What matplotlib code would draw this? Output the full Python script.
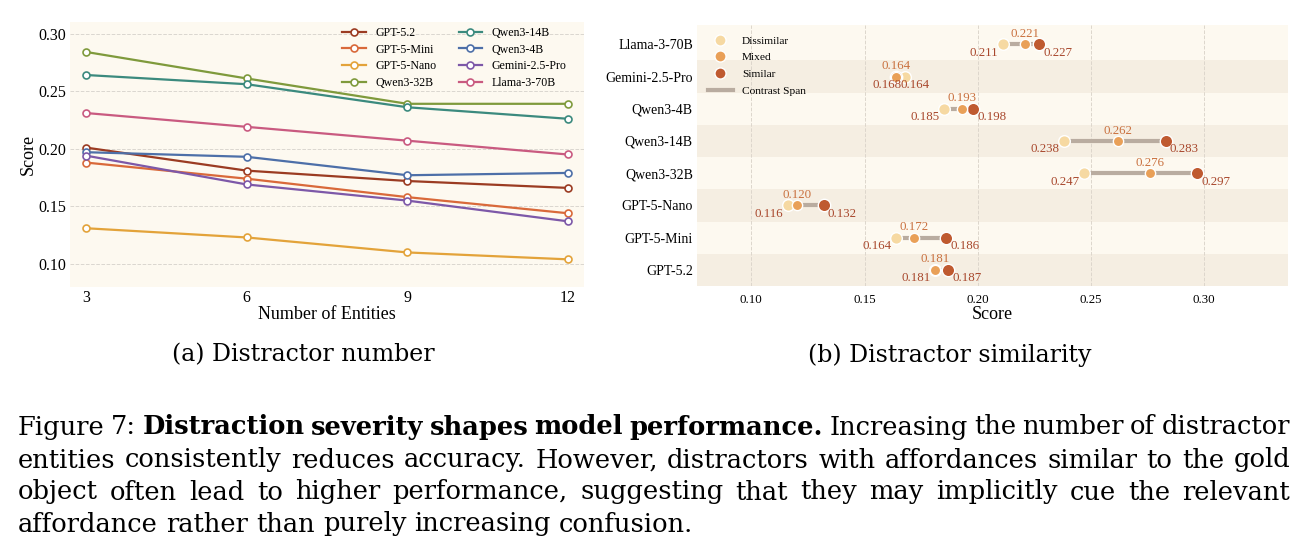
import matplotlib
matplotlib.use('Agg')
import matplotlib.pyplot as plt
from matplotlib.lines import Line2D

plt.rcParams['font.family'] = ['Liberation Serif', 'DejaVu Serif']

# ---------------- data: (a) distractor number ----------------
entities = [3, 6, 9, 12]
models_a = ['GPT-5.2', 'GPT-5-Mini', 'GPT-5-Nano', 'Qwen3-32B',
            'Qwen3-14B', 'Qwen3-4B', 'Gemini-2.5-Pro', 'Llama-3-70B']
gpt52 = [0.201, 0.181, 0.172, 0.166]
gpt5mini = [0.188, 0.174, 0.158, 0.144]
gpt5nano = [0.131, 0.123, 0.110, 0.104]
qwen32b = [0.284, 0.261, 0.239, 0.239]
qwen14b = [0.264, 0.256, 0.236, 0.226]
qwen4b = [0.197, 0.193, 0.177, 0.179]
gemini = [0.194, 0.169, 0.155, 0.137]
llama = [0.231, 0.219, 0.207, 0.195]
series_a = [gpt52, gpt5mini, gpt5nano, qwen32b, qwen14b, qwen4b, gemini, llama]
colors_a = ['#9B3B22', '#D9693A', '#E3A33A', '#7F9A3C',
            '#3B8A7E', '#4D6FA8', '#7D58A8', '#C95A80']
yticks_a = [0.10, 0.15, 0.20, 0.25, 0.30]

# ---------------- data: (b) distractor similarity ----------------
models_b = ['Llama-3-70B', 'Gemini-2.5-Pro', 'Qwen3-4B', 'Qwen3-14B',
            'Qwen3-32B', 'GPT-5-Nano', 'GPT-5-Mini', 'GPT-5.2']
dissimilar = [0.211, 0.168, 0.185, 0.238, 0.247, 0.116, 0.164, 0.181]
mixed = [0.221, 0.164, 0.193, 0.262, 0.276, 0.120, 0.172, 0.181]
similar = [0.227, 0.164, 0.198, 0.283, 0.297, 0.132, 0.186, 0.187]
xticks_b = [0.10, 0.15, 0.20, 0.25, 0.30]

c_dis, c_mix, c_sim = '#F6D9A2', '#E9A058', '#BF5A30'
c_span = '#B9ACA0'
c_lab = '#A8472C'
c_mlab = '#C9703E'
bg = '#FDF9F0'
band = '#F5EEE2'

W, H = 1306, 552
fig = plt.figure(figsize=(W / 100, H / 100), dpi=100)
fig.patch.set_facecolor('white')

def box(x0, y0, x1, y1):
    return [x0 / W, 1 - y1 / H, (x1 - x0) / W, (y1 - y0) / H]

# ---------------- left panel ----------------
ax1 = fig.add_axes(box(70, 22, 584, 287))
ax1.set_facecolor(bg)
for name, vals, col in zip(models_a, series_a, colors_a):
    ax1.plot(entities, vals, color=col, lw=1.6, marker='o', ms=5,
             mfc='white', mec=col, mew=1.2, label=name, zorder=3)
ax1.set_xlim(2.7, 12.3)
ax1.set_ylim(0.08, 0.31)
ax1.set_xticks(entities)
ax1.set_yticks(yticks_a)
ax1.set_yticklabels([f'{v:.2f}' for v in yticks_a])
ax1.grid(axis='y', color='#DAD6D0', ls='--', lw=0.7)
ax1.set_axisbelow(True)
for s in ax1.spines.values():
    s.set_visible(False)
ax1.tick_params(axis='y', length=0, labelsize=11.5, pad=3)
ax1.tick_params(axis='x', length=0, labelsize=11.5, pad=2.5)
ax1.set_xlabel('Number of Entities', fontsize=13, labelpad=0)
ax1.set_ylabel('Score', fontsize=13, labelpad=1)
ax1.legend(ncol=2, loc='upper right', frameon=False, fontsize=8.6,
           handlelength=1.93, handletextpad=0.8, columnspacing=1.9,
           labelspacing=0.4, borderaxespad=0.0,
           bbox_to_anchor=(0.975, 1.0))

# ---------------- right panel ----------------
ax2 = fig.add_axes(box(697, 25, 1288, 286))
ax2.set_facecolor(bg)
n = len(models_b)
ypos = [n - 1 - i for i in range(n)]
for i, y in enumerate(ypos):
    ax2.axhspan(y - 0.5, y + 0.5, color=(band if i % 2 == 1 else bg), zorder=0, lw=0)
for x in xticks_b:
    ax2.axvline(x, color='#DDD6CC', ls='--', lw=0.7, zorder=1)
for y, d, m, s in zip(ypos, dissimilar, mixed, similar):
    ax2.plot([d, s], [y, y], color=c_span, lw=3, solid_capstyle='butt', zorder=2)
    ax2.scatter([d], [y], s=70, color=c_dis, edgecolors='white', linewidths=1, zorder=4)
    ax2.scatter([m], [y], s=55, color=c_mix, edgecolors='white', linewidths=1, zorder=5)
    ax2.scatter([s], [y], s=80, color=c_sim, edgecolors='white', linewidths=1, zorder=4)
    ax2.annotate(f'{d:.3f}', (d, y), xytext=(-3, -6), textcoords='offset points',
                 ha='right', va='center', fontsize=9.3, color=c_lab, zorder=6)
    ax2.annotate(f'{s:.3f}', (s, y), xytext=(3, -6), textcoords='offset points',
                 ha='left', va='center', fontsize=9.3, color=c_lab, zorder=6)
    ax2.annotate(f'{m:.3f}', (m, y), xytext=(0, 7.5), textcoords='offset points',
                 ha='center', va='center', fontsize=9.3, color=c_mlab, zorder=6)
ax2.set_xlim(0.076, 0.337)
ax2.set_ylim(-0.5, n - 0.4)
ax2.set_yticks(ypos)
ax2.set_yticklabels(models_b)
ax2.set_xticks(xticks_b)
ax2.set_xticklabels([f'{v:.2f}' for v in xticks_b])
for s in ax2.spines.values():
    s.set_visible(False)
ax2.tick_params(axis='y', length=0, labelsize=10, pad=3)
ax2.tick_params(axis='x', length=0, labelsize=9.3, pad=6)
ax2.set_xlabel('Score', fontsize=13, labelpad=0)
handles = [
    Line2D([], [], ls='none', marker='o', ms=8, mfc=c_dis, mec='white', label='Dissimilar'),
    Line2D([], [], ls='none', marker='o', ms=8, mfc=c_mix, mec='white', label='Mixed'),
    Line2D([], [], ls='none', marker='o', ms=8, mfc=c_sim, mec='white', label='Similar'),
    Line2D([], [], color=c_span, lw=3, label='Contrast Span'),
]
ax2.legend(handles=handles, loc='upper left', frameon=False, fontsize=8.2,
           handlelength=2.2, labelspacing=0.58, borderaxespad=0.55)

# ---------------- captions ----------------
cap_font = ['DejaVu Serif']
fig.text(303 / W, 1 - 355 / H, '(a) Distractor number', ha='center', va='center',
         fontsize=17, family=cap_font)
fig.text(950 / W, 1 - 355 / H, '(b) Distractor similarity', ha='center', va='center',
         fontsize=17, family=cap_font)

caption_lines = [
    [('Figure 7:', 'normal'), ('Distraction severity shapes model performance.', 'bold'),
     ('Increasing the number of distractor', 'normal')],
    [('entities consistently reduces accuracy. However, distractors with affordances similar to the gold', 'normal')],
    [('object often lead to higher performance, suggesting that they may implicitly cue the relevant', 'normal')],
    [('affordance rather than purely increasing confusion.', 'normal')],
]
line_y = [427, 460, 492, 524]
x_left, x_right = 18, 1290
last_line_end = 695

renderer = fig.canvas.get_renderer()

def words_of(line):
    out = []
    for txt, wt in line:
        for w in txt.split():
            out.append((w, wt))
    return out

def measure(word, wt, fs):
    t = fig.text(0, 0, word, fontsize=fs, fontweight=wt, family=cap_font)
    wdt = t.get_window_extent(renderer).width
    t.remove()
    return wdt

def space_w(fs):
    return measure('x x', 'normal', fs) - measure('xx', 'normal', fs)

def natural(line, fs):
    ws = words_of(line)
    return sum(measure(w, wt, fs) for w, wt in ws) + space_w(fs) * (len(ws) - 1)

base = 20
fs = base * (last_line_end - x_left) / natural(caption_lines[-1], base)
# keep every justified line from being squeezed below half a space
for line in caption_lines[:-1]:
    ws = words_of(line)
    words_w = sum(measure(w, wt, fs) for w, wt in ws)
    min_w = words_w + 0.5 * space_w(fs) * (len(ws) - 1)
    if min_w > (x_right - x_left):
        fs *= (x_right - x_left) / min_w

for li, (line, yy) in enumerate(zip(caption_lines, line_y)):
    ws = words_of(line)
    widths = [measure(w, wt, fs) for w, wt in ws]
    if li < len(caption_lines) - 1:
        gap = ((x_right - x_left) - sum(widths)) / (len(ws) - 1)
    else:
        gap = space_w(fs)
    x = x_left
    for (w, wt), wd in zip(ws, widths):
        fig.text(x / W, 1 - yy / H, w, fontsize=fs, fontweight=wt, family=cap_font,
                 ha='left', va='center')
        x += wd + gap

fig.savefig('out.png', dpi=100, facecolor='white')
